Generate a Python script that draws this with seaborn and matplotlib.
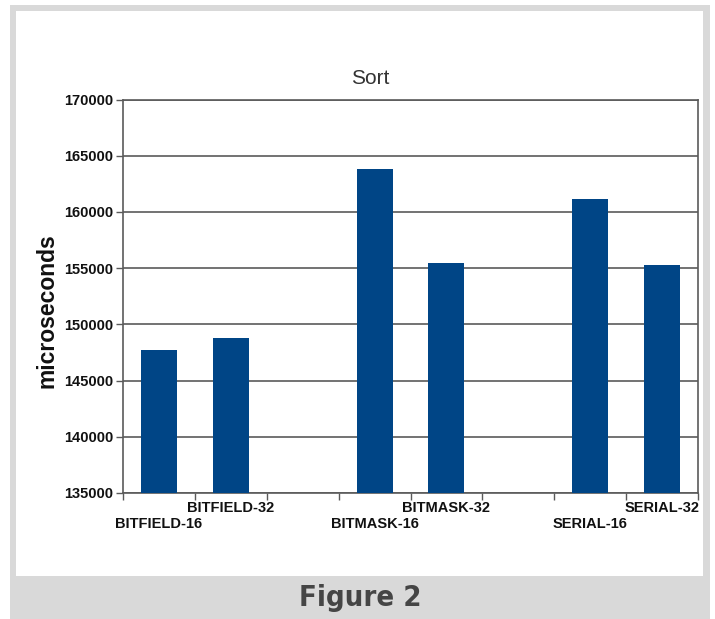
import matplotlib
matplotlib.use("Agg")
import matplotlib.pyplot as plt
from matplotlib.patches import Rectangle
import numpy as np
import pandas as pd
import seaborn as sns

# Sort timings per implementation
variants = ["BITFIELD-16", "BITFIELD-32", "BITMASK-16", "BITMASK-32", "SERIAL-16", "SERIAL-32"]
times_us = [147750, 148800, 163800, 155500, 161150, 155250]
y_ticks = [135000, 140000, 145000, 150000, 155000, 160000, 165000, 170000]

# two bars per group, one empty slot between groups
group = np.arange(len(variants)) // 2
member = np.arange(len(variants)) % 2
slot = group * 3 + member

df = pd.DataFrame({"variant": variants, "time": times_us, "slot": slot})

sns.set_theme(style="white")
plt.rcParams["font.family"] = ["Liberation Sans", "DejaVu Sans"]

W, H = 715, 619
fig = plt.figure(figsize=(W / 100, H / 100), dpi=100, facecolor="white")

# grey frame with white panel
fig.patches.append(Rectangle((10 / W, 0), 700 / W, 1 - 5 / H,
                             transform=fig.transFigure, facecolor="#d9d9d9",
                             edgecolor="none", zorder=-3))
fig.patches.append(Rectangle((16 / W, 1 - 576 / H), (703 - 16) / W, (576 - 11) / H,
                             transform=fig.transFigure, facecolor="white",
                             edgecolor="none", zorder=-2))

ax_h_px = 493 - 99.5
ax = fig.add_axes([123 / W, 1 - 493 / H, (698 - 123) / W, ax_h_px / H])
ax.set_facecolor("none")

sns.barplot(data=df, x="slot", y="time", native_scale=True, width=0.5,
            color="#004586", saturation=1, linewidth=0, ax=ax, zorder=3)

grid_c = "#5a5a5a"
ax.set_ylim(135000, 170000)
ax.set_yticks(y_ticks)
ax.set_yticklabels([str(v) for v in y_ticks])
ax.yaxis.grid(True, color=grid_c, linewidth=1.2, zorder=1)
ax.set_axisbelow(True)

ax.set_xlim(-0.5, 7.5)
ax.set_xticks(np.arange(-0.5, 8.0, 1.0))
ax.set_xticklabels([])

ax.tick_params(axis="x", which="major", direction="out", length=5, width=1,
               color=grid_c, bottom=True)
ax.tick_params(axis="y", direction="out", length=5, width=1, color=grid_c,
               pad=2, labelsize=10.5, left=True)
for lab in ax.get_yticklabels():
    lab.set_fontweight("bold")
    lab.set_color("#111111")

# staggered category labels: 16-bit variants on the lower row
xform = ax.get_xaxis_transform()
for i, (pos, name) in enumerate(zip(slot, variants)):
    off = 31.5 if member[i] == 0 else 15.5
    ax.text(pos, -off / ax_h_px, name, transform=xform, ha="center", va="center",
            fontsize=10.5, fontweight="bold", color="#111111", clip_on=False)

for side in ["left", "right", "top", "bottom"]:
    ax.spines[side].set_visible(True)
    ax.spines[side].set_color(grid_c)
    ax.spines[side].set_linewidth(1.2)

ax.set_xlabel("")
ax.set_ylabel("")

fig.text(370 / W, 1 - 79 / H, "Sort", ha="center", va="center",
         fontsize=15, color="#333333")
fig.text(47 / W, 1 - 311 / H, "microseconds", ha="center", va="center",
         rotation=90, fontsize=16.5, fontweight="bold", color="#111111")

fig.text(360 / W, 1 - 598 / H, "Figure 2", ha="center", va="center",
         fontsize=21, fontweight="bold", fontstretch="condensed",
         family=["DejaVu Sans"], color="#454545")

fig.savefig("out.png", dpi=100, facecolor=fig.get_facecolor())
